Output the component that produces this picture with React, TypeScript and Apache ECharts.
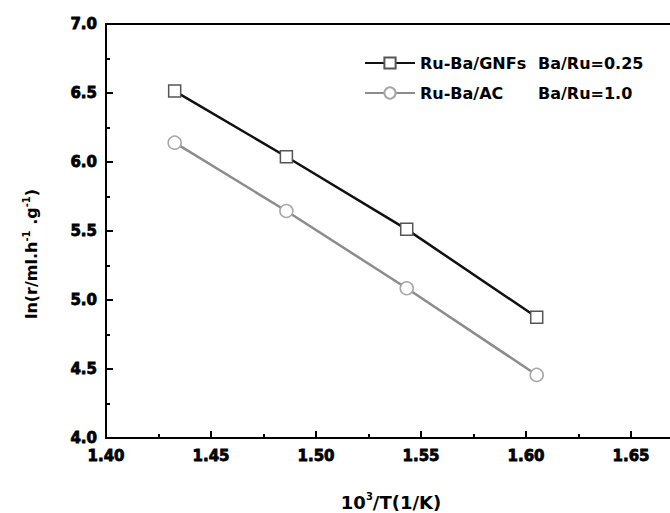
import React, { useEffect, useRef } from "react";
import * as echarts from "echarts";

const xValues = [1.4327, 1.4859, 1.5432, 1.6051];
const gnfsValues = [6.514, 6.038, 5.512, 4.875];
const acValues = [6.14, 5.645, 5.085, 4.457];
const seriesNames = ["Ru-Ba/GNFs|Ba/Ru=0.25", "Ru-Ba/AC|Ba/Ru=1.0"];

const FONT = '"DejaVu Sans", "Liberation Sans", Arial, sans-serif';

export default function App() {
  const ref = useRef<HTMLDivElement>(null);
  useEffect(() => {
    if (!ref.current) return;
    const chart = echarts.init(ref.current, null, { renderer: "svg" });
    const pair = (ys: number[]) => xValues.map((x, i) => [x, ys[i]]);
    const tickLabel = {
      fontFamily: FONT,
      fontWeight: 700,
      fontSize: 15,
      color: "#000",
      textBorderColor: "#000",
      textBorderWidth: 0.8,
    };
    chart.setOption({
      animation: false,
      backgroundColor: "#ffffff",
      textStyle: { fontFamily: FONT, fontWeight: 700 },
      grid: {
        left: 106,
        top: 24,
        bottom: 75,
        right: -66,
        containLabel: false,
        outerBoundsMode: "none",
        show: true,
        borderColor: "#000",
        borderWidth: 2,
      },
      legend: {
        orient: "vertical",
        left: 359,
        top: 50,
        itemWidth: 50,
        itemHeight: 14,
        itemGap: 14,
        data: seriesNames,
        formatter: (name: string) => {
          const [a, b] = name.split("|");
          return `{a|${a}}{b|${b}}`;
        },
        textStyle: {
          fontWeight: 700,
          lineHeight: 14,
          rich: {
            a: { fontFamily: FONT, fontWeight: 700, fontSize: 16, color: "#000", width: 118, lineHeight: 14 },
            b: { fontFamily: FONT, fontWeight: 700, fontSize: 16, color: "#000", lineHeight: 14 },
          },
        },
      },
      xAxis: {
        type: "value",
        min: 1.4,
        max: 1.7,
        interval: 0.05,
        axisLine: { show: true, lineStyle: { color: "#000", width: 2 } },
        axisTick: { show: true, inside: true, length: 7, lineStyle: { color: "#000", width: 2 } },
        minorTick: { show: true, splitNumber: 2, length: 4, lineStyle: { color: "#000", width: 2 } },
        splitLine: { show: false },
        axisLabel: {
          ...tickLabel,
          margin: 10,
          formatter: (v: number) => (v > 1.66 ? "" : v.toFixed(2)),
        },
      },
      yAxis: {
        type: "value",
        min: 4.0,
        max: 7.0,
        interval: 0.5,
        axisLine: { show: true, lineStyle: { color: "#000", width: 2 } },
        axisTick: { show: true, inside: true, length: 7, lineStyle: { color: "#000", width: 2 } },
        minorTick: { show: true, splitNumber: 2, length: 4, lineStyle: { color: "#000", width: 2 } },
        splitLine: { show: false },
        axisLabel: {
          ...tickLabel,
          margin: 9,
          formatter: (v: number) => v.toFixed(1),
        },
      },
      graphic: [
        {
          type: "text",
          x: 391,
          y: 501,
          style: {
            text: "{a|10}{s|3}{a|/T(1/K)}",
            align: "center",
            verticalAlign: "middle",
            rich: {
              a: { fontFamily: FONT, fontWeight: 700, fontSize: 18, fill: "#000", lineHeight: 20, verticalAlign: "bottom" },
              s: { fontFamily: FONT, fontWeight: 700, fontSize: 10, fill: "#000", lineHeight: 20, verticalAlign: "top" },
            },
          },
        },
        {
          type: "text",
          x: 30,
          y: 254,
          rotation: Math.PI / 2,
          style: {
            text: "{a|ln(r/ml.h}{s|-1}{a| .g}{s|-1}{a|)}",
            align: "center",
            verticalAlign: "middle",
            rich: {
              a: { fontFamily: FONT, fontWeight: 700, fontSize: 16, fill: "#000", lineHeight: 18, verticalAlign: "bottom" },
              s: { fontFamily: FONT, fontWeight: 700, fontSize: 10, fill: "#000", lineHeight: 18, verticalAlign: "top" },
            },
          },
        },
      ],
      series: [
        {
          name: seriesNames[0],
          type: "line",
          data: pair(gnfsValues),
          symbol: "rect",
          symbolSize: 12,
          showAllSymbol: true,
          lineStyle: { color: "#111", width: 2.5 },
          itemStyle: { color: "#fff", borderColor: "#555", borderWidth: 1.5 },
          emphasis: { disabled: true },
          z: 3,
        },
        {
          name: seriesNames[1],
          type: "line",
          data: pair(acValues),
          symbol: "circle",
          symbolSize: 13,
          showAllSymbol: true,
          lineStyle: { color: "#8c8c8c", width: 2.5 },
          itemStyle: { color: "#fff", borderColor: "#a6a6a6", borderWidth: 1.5 },
          emphasis: { disabled: true },
          z: 2,
        },
      ],
    });
    return () => chart.dispose();
  }, []);
  return (
    <div
      ref={ref}
      style={{ position: "fixed", left: 0, top: 0, width: 670, height: 513, background: "#fff" }}
    />
  );
}
